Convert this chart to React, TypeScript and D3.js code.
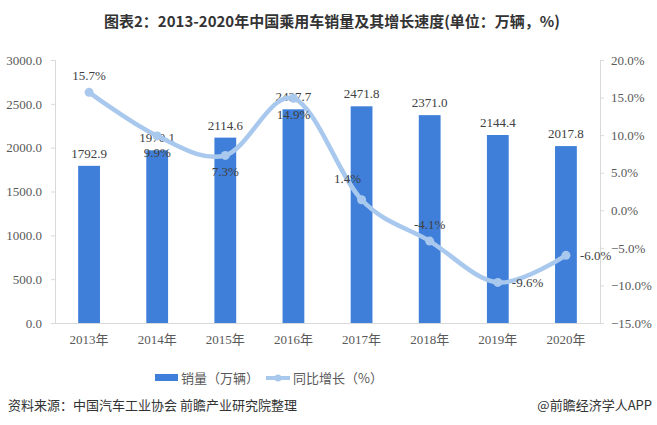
import React, { useEffect, useRef } from 'react';
import * as d3 from 'd3';

const years = ['2013年', '2014年', '2015年', '2016年', '2017年', '2018年', '2019年', '2020年'];
const sales = [1792.9, 1970.1, 2114.6, 2437.7, 2471.8, 2371.0, 2144.4, 2017.8];
const growth = [15.7, 9.9, 7.3, 14.9, 1.4, -4.1, -9.6, -6.0];
const leftTicks = [0, 500, 1000, 1500, 2000, 2500, 3000];
const rightTicks = [-15, -10, -5, 0, 5, 10, 15, 20];

// where each growth label sits relative to its point
const growthLabelPos = ['above', 'below', 'below', 'below', 'aboveLeft', 'above', 'right', 'right'];

const serif = '"Liberation Serif", "Times New Roman", "Noto Sans CJK SC", serif';
const sans = '"Noto Sans CJK SC", "Noto Sans", sans-serif';

const App = () => {
  const svgRef = useRef<SVGSVGElement>(null);

  useEffect(() => {
    const svg = d3.select(svgRef.current);
    svg.selectAll('*').remove();

    const width = 657;
    const height = 425;
    const m = { top: 60, right: 57, bottom: 102, left: 55 };

    const x = d3.scaleBand<string>()
      .domain(years)
      .range([m.left, width - m.right])
      .paddingInner(0.68)
      .paddingOuter(0.34);

    const yL = d3.scaleLinear().domain([0, 3000]).range([height - m.bottom, m.top]);
    const yR = d3.scaleLinear().domain([-15, 20]).range([height - m.bottom, m.top]);

    const axisColor = '#d9d9d9';
    const labelColor = '#595959';

    // title
    svg.append('text')
      .attr('x', 332)
      .attr('y', 27)
      .attr('text-anchor', 'middle')
      .style('font-family', sans)
      .style('font-weight', 'bold')
      .style('font-size', '15px')
      .attr('fill', '#333')
      .text('图表2：2013-2020年中国乘用车销量及其增长速度(单位：万辆，%)');

    // left / right axes
    const left = svg.append('g').attr('transform', `translate(${m.left},0)`)
      .call(d3.axisLeft(yL).tickValues(leftTicks).tickSize(4).tickFormat(d => d3.format('.1f')(d as number)));
    const right = svg.append('g').attr('transform', `translate(${width - m.right},0)`)
      .call(d3.axisRight(yR).tickValues(rightTicks).tickSize(4).tickFormat(d => d3.format('.1f')(d as number) + '%'));
    [left, right].forEach(g => {
      g.select('.domain').attr('stroke', axisColor);
      g.selectAll('.tick line').attr('stroke', axisColor);
      g.selectAll('.tick text')
        .attr('fill', labelColor)
        .style('font-family', serif)
        .style('font-size', '13px');
    });
    left.selectAll('.tick text').attr('x', -13);
    right.selectAll('.tick text').attr('x', 11);

    // bottom axis
    const bottom = svg.append('g').attr('transform', `translate(0,${height - m.bottom})`)
      .call(d3.axisBottom(x).tickSize(0).tickSizeOuter(0));
    bottom.select('.domain').attr('stroke', axisColor);
    bottom.selectAll('.tick text')
      .attr('fill', labelColor)
      .attr('dy', '1.35em')
      .style('font-family', serif)
      .style('font-size', '13px');

    // bars
    svg.append('g').selectAll('rect')
      .data(sales)
      .join('rect')
      .attr('x', (_, i) => x(years[i])!)
      .attr('width', x.bandwidth())
      .attr('y', d => yL(d))
      .attr('height', d => yL(0) - yL(d))
      .attr('fill', '#3f7fd9');

    svg.append('g').selectAll('text')
      .data(sales)
      .join('text')
      .attr('x', (_, i) => x(years[i])! + x.bandwidth() / 2)
      .attr('y', d => yL(d) - 8)
      .attr('text-anchor', 'middle')
      .attr('fill', '#404040')
      .style('font-family', serif)
      .style('font-size', '13px')
      .text(d => d.toFixed(1));

    // growth line
    const cx = (i: number) => x(years[i])! + x.bandwidth() / 2;
    const line = d3.line<number>()
      .x((_, i) => cx(i))
      .y(d => yR(d))
      .curve(d3.curveCatmullRom.alpha(0));

    const lineColor = '#a9c8ee';
    svg.append('path')
      .datum(growth)
      .attr('d', line)
      .attr('fill', 'none')
      .attr('stroke', lineColor)
      .attr('stroke-width', 4.5)
      .attr('stroke-linecap', 'round');

    svg.append('g').selectAll('circle')
      .data(growth)
      .join('circle')
      .attr('cx', (_, i) => cx(i))
      .attr('cy', d => yR(d))
      .attr('r', 4.5)
      .attr('fill', lineColor);

    svg.append('g').selectAll('text')
      .data(growth)
      .join('text')
      .each(function (d, i) {
        const pos = growthLabelPos[i];
        const px = cx(i);
        const py = yR(d);
        const t = d3.select(this);
        if (pos === 'above') t.attr('x', px).attr('y', py - 12).attr('text-anchor', 'middle');
        else if (pos === 'below') t.attr('x', px).attr('y', py + 21).attr('text-anchor', 'middle');
        else if (pos === 'aboveLeft') t.attr('x', px - 14).attr('y', py - 17).attr('text-anchor', 'middle');
        else t.attr('x', px + 14).attr('y', py + 5).attr('text-anchor', 'start');
      })
      .attr('fill', '#404040')
      .style('font-family', serif)
      .style('font-size', '13px')
      .text(d => d.toFixed(1) + '%');

    // legend
    const lg = svg.append('g').attr('transform', 'translate(0,378)');
    lg.append('rect').attr('x', 155).attr('y', -4).attr('width', 23).attr('height', 7).attr('fill', '#3f7fd9');
    lg.append('text').attr('x', 181).attr('y', 5)
      .attr('fill', labelColor).style('font-family', sans).style('font-size', '13px')
      .text('销量（万辆）');
    lg.append('line').attr('x1', 266).attr('x2', 290).attr('y1', 0).attr('y2', 0)
      .attr('stroke', lineColor).attr('stroke-width', 4);
    lg.append('circle').attr('cx', 278).attr('cy', 0).attr('r', 3.5).attr('fill', lineColor);
    lg.append('text').attr('x', 293).attr('y', 5)
      .attr('fill', labelColor).style('font-family', sans).style('font-size', '13px')
      .text('同比增长（%）');

    // source
    svg.append('text').attr('x', 8).attr('y', 410)
      .attr('fill', '#333').style('font-family', sans).style('font-size', '13px')
      .text('资料来源：中国汽车工业协会 前瞻产业研究院整理');
    svg.append('text').attr('x', 652).attr('y', 410).attr('text-anchor', 'end')
      .attr('fill', '#333').style('font-family', sans).style('font-size', '13px')
      .text('@前瞻经济学人APP');
  }, []);

  return (
    <div style={{ position: 'absolute', left: 0, top: 0, background: '#fff' }}>
      <svg ref={svgRef} width={657} height={425} style={{ display: 'block' }} />
    </div>
  );
};

export default App;
